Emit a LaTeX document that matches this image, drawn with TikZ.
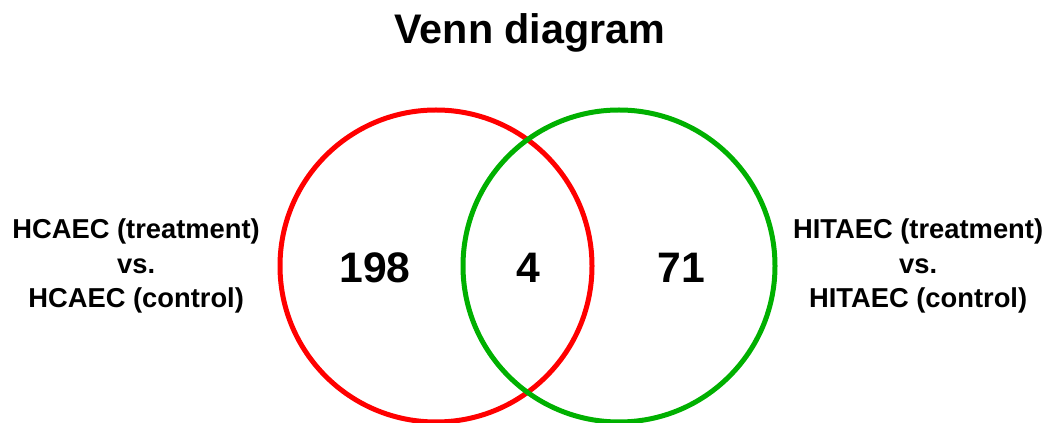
\documentclass[tikz,border=0pt]{standalone}
\usepackage{fontspec}
\setmainfont{Liberation Sans}
\usepackage{xcolor}
\usepackage{tikz}
\usetikzlibrary{positioning}

\definecolor{setred}{RGB}{255,0,0}
\definecolor{setgreen}{RGB}{0,176,0}

\begin{document}
\begin{tikzpicture}[
    x=0.75pt, y=-0.75pt,
    setcircle/.style={circle, line width=3.75pt, minimum size=234pt, inner sep=0pt},
    count/.style={font=\bfseries\fontsize{32}{36}\selectfont},
    setlabel/.style={align=center, inner sep=0pt, font=\bfseries\fontsize{20.5}{26}\selectfont}
]
    \useasboundingbox (0,0) rectangle (1046,423);

    \node[font=\bfseries\fontsize{31}{36}\selectfont] (title) at (530,33) {Venn diagram};

    \node[setcircle, draw=setred] (left) at (436,266) {};
    \node[setcircle, draw=setgreen] (right) at (619,266) {};

    \node[count] (n1) at (375,268) {198};
    \node[count] (n2) at (528,268) {4};
    \node[count] (n3) at (681,268) {71};

    \node[setlabel, left=13pt of left] (lab1) {HCAEC (treatment)\\vs.\\HCAEC (control)};
    \node[setlabel, right=11.5pt of right] (lab2) {HITAEC (treatment)\\vs.\\HITAEC (control)};
\end{tikzpicture}
\end{document}
